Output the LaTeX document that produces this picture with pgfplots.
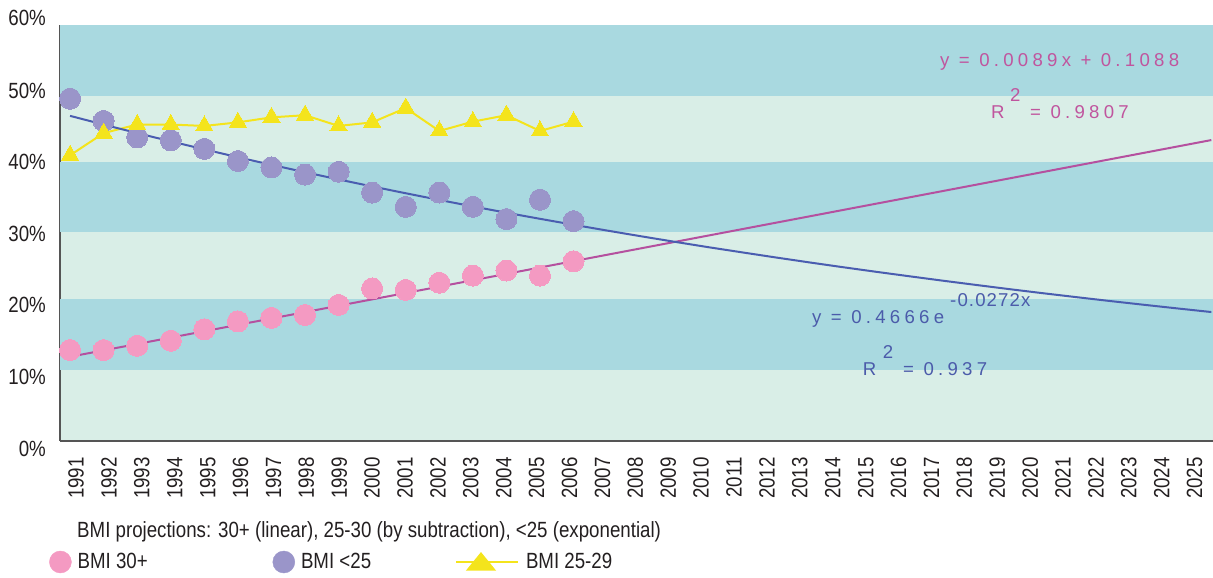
\documentclass[border=0pt]{standalone}
\usepackage{fontspec}
\setmainfont{Liberation Sans}[FakeStretch=0.85]
\newfontfamily\eqfont{Liberation Sans}[LetterSpace=23]
\newfontfamily\supfont{Liberation Sans}[LetterSpace=6]
\usepackage{pgfplots}
\pgfplotsset{compat=1.18}
\definecolor{pinkM}{HTML}{F49AC2}
\definecolor{purpleM}{HTML}{9A95C9}
\definecolor{yellowM}{HTML}{F4E41C}
\definecolor{bandDark}{HTML}{A9D9E0}
\definecolor{bandLight}{HTML}{D9EEE7}
\definecolor{trendPink}{HTML}{B5509F}
\definecolor{trendBlue}{HTML}{4A5DB0}
\definecolor{eqPink}{HTML}{C0559E}
\definecolor{eqBlue}{HTML}{4B5BAA}
\definecolor{axisGray}{HTML}{555555}
\definecolor{textDark}{HTML}{231F20}
\newcommand\lbl{\fontsize{22pt}{26pt}\selectfont}
\newcommand\eqf{\eqfont\fontsize{18.6pt}{22pt}\selectfont}
\newcommand\supf{\supfont\fontsize{18.6pt}{22pt}\selectfont}
\begin{document}
\begin{tikzpicture}
\begin{axis}[
  at={(60pt,137pt)}, anchor=south west,
  width=1153pt, height=416pt, scale only axis,
  xmin=1990.7, xmax=2025.05, ymin=0, ymax=58.1,
  clip=false,
  axis background/.style={fill=bandLight},
  axis x line*=bottom, axis y line*=left,
  axis line style={draw=axisGray, line width=1.5pt},
  major tick length=0pt,
  xtick={1991.000,1991.980,1992.960,1993.940,1994.921,1995.901,1996.881,1997.861,1998.841,1999.821,
    2000.802,2001.782,2002.762,2003.742,2004.722,2005.702,2006.683,2007.663,2008.643,2009.623,
    2010.603,2011.583,2012.564,2013.544,2014.524,2015.504,2016.484,2017.464,2018.444,2019.425,
    2020.405,2021.385,2022.365,2023.345,2024.325},
  xticklabels={1991,1992,1993,1994,1995,1996,1997,1998,1999,2000,2001,2002,2003,2004,2005,2006,2007,
    2008,2009,2010,2011,2012,2013,2014,2015,2016,2017,2018,2019,2020,2021,2022,2023,2024,2025},
  xticklabel style={font=\lbl, text=textDark, xshift=6pt, yshift=-16pt, rotate=90, anchor=east, inner sep=0pt},
  ytick={0,10,20,30,40,50},
  yticklabels={0\%,10\%,20\%,30\%,40\%,50\%},
  yticklabel style={font=\lbl, text=textDark, anchor=east, inner sep=0pt, xshift=-14pt, yshift=-7.5pt},
  legend columns=3,
  legend cell align=left,
  legend style={at={(-0.00954,-0.2909)}, anchor=west, draw=none, fill=none, inner sep=0pt, column sep=0pt,
    nodes={inner sep=0pt, font=\lbl, text=textDark}},
]
% background bands
\addplot[fill=bandDark, draw=none, forget plot] coordinates {(1990.7,48.18) (2025.05,48.18) (2025.05,58.1) (1990.7,58.1)};
\addplot[fill=bandDark, draw=none, forget plot] coordinates {(1990.7,29.19) (2025.05,29.19) (2025.05,38.97) (1990.7,38.97)};
\addplot[fill=bandDark, draw=none, forget plot] coordinates {(1990.7,9.92) (2025.05,9.92) (2025.05,19.83) (1990.7,19.83)};

% BMI 30+
\addplot[pinkM, only marks, mark=*, mark size=10.5pt, mark options={fill=pinkM, draw=pinkM, line width=0pt},
  legend image code/.code={\fill[pinkM] (0pt,0pt) circle[radius=11pt];}]
 coordinates {(1991,12.7) (1992,12.7) (1993,13.3) (1994,14.0) (1995,15.6) (1996,16.7) (1997,17.2) (1998,17.6)
  (1999,19.0) (2000,21.3) (2001,21.1) (2002,22.1) (2003,23.1) (2004,23.8) (2005,23.1) (2006,25.1)};
\addlegendentry{\makebox[201pt][l]{\hspace*{6pt}BMI 30+}}

% BMI <25
\addplot[purpleM, only marks, mark=*, mark size=10.5pt, mark options={fill=purpleM, draw=purpleM, line width=0pt},
  legend image code/.code={\fill[purpleM] (0pt,0pt) circle[radius=11pt];}]
 coordinates {(1991,47.8) (1992,44.7) (1993,42.4) (1994,42.0) (1995,40.8) (1996,39.1) (1997,38.2) (1998,37.2)
  (1999,37.6) (2000,34.7) (2001,32.7) (2002,34.7) (2003,32.7) (2004,31.0) (2005,33.7) (2006,30.7)};
\addlegendentry{\makebox[160pt][l]{\hspace*{6pt}BMI <25}}

% BMI 25-29
\addplot[yellowM, line width=2pt, mark=triangle*, mark size=10pt, mark options={fill=yellowM, draw=yellowM, line width=0pt},
  legend image code/.code={\draw[yellowM, line width=2pt] (0pt,0pt) -- (62pt,0pt);
     \fill[yellowM] (12pt,-7.6pt) -- (38pt,-7.6pt) -- (25pt,8.4pt) -- cycle;}]
 coordinates {(1991,39.9) (1992,43.0) (1993,44.2) (1994,44.2) (1995,44.0) (1996,44.5) (1997,45.2) (1998,45.5)
  (1999,44.0) (2000,44.5) (2001,46.5) (2002,43.3) (2003,44.6) (2004,45.5) (2005,43.3) (2006,44.6)};
\addlegendentry{\hspace*{7pt}BMI 25-29}

% trend lines
\addplot[trendPink, line width=2pt, forget plot] coordinates {(1991,11.77) (2025,42.03)};
\addplot[trendBlue, line width=2pt, forget plot] coordinates {
 (1991,45.41) (1992,44.19) (1993,43.00) (1994,41.85) (1995,40.73) (1996,39.63) (1997,38.57) (1998,37.54)
 (1999,36.53) (2000,35.55) (2001,34.60) (2002,33.67) (2003,32.76) (2004,31.88) (2005,31.03) (2006,30.20)
 (2007,29.39) (2008,28.60) (2009,27.83) (2010,27.08) (2011,26.36) (2012,25.65) (2013,24.96) (2014,24.29)
 (2015,23.64) (2016,23.01) (2017,22.39) (2018,21.79) (2019,21.20) (2020,20.63) (2021,20.08) (2022,19.54)
 (2023,19.02) (2024,18.51) (2025,18.01)};
\end{axis}
% extra top tick label
\node[anchor=east, inner sep=0pt, font=\lbl, text=textDark] at (46pt,560pt) {60\%};
% caption
\node[anchor=base west, inner sep=0pt, font=\lbl, text=textDark] at (77pt,40pt)
  {BMI projections: 30+ (linear), 25-30 (by subtraction), <25 (exponential)};
% equations
\node[anchor=base west, inner sep=0pt, font=\eqf, text=eqPink] at (940pt,511pt) {y = 0.0089x + 0.1088};
\node[anchor=base west, inner sep=0pt, font=\eqf, text=eqPink] at (991pt,459.7pt) {R};
\node[anchor=base west, inner sep=0pt, font=\eqf, text=eqPink] at (1010pt,476.3pt) {2};
\node[anchor=base west, inner sep=0pt, font=\eqf, text=eqPink] at (1030pt,459.7pt) {= 0.9807};
\node[anchor=base west, inner sep=0pt, font=\eqf, text=eqBlue] at (812pt,254pt) {y = 0.4666e};
\node[anchor=base west, inner sep=0pt, font=\supf, text=eqBlue] at (950pt,271pt) {-0.0272x};
\node[anchor=base west, inner sep=0pt, font=\eqf, text=eqBlue] at (862.7pt,202pt) {R};
\node[anchor=base west, inner sep=0pt, font=\eqf, text=eqBlue] at (882.7pt,219pt) {2};
\node[anchor=base west, inner sep=0pt, font=\eqf, text=eqBlue] at (903pt,202pt) {= 0.937};
\pgfresetboundingbox
\path[use as bounding box] (0pt,0pt) rectangle (1213pt,578pt);
\end{tikzpicture}
\end{document}
